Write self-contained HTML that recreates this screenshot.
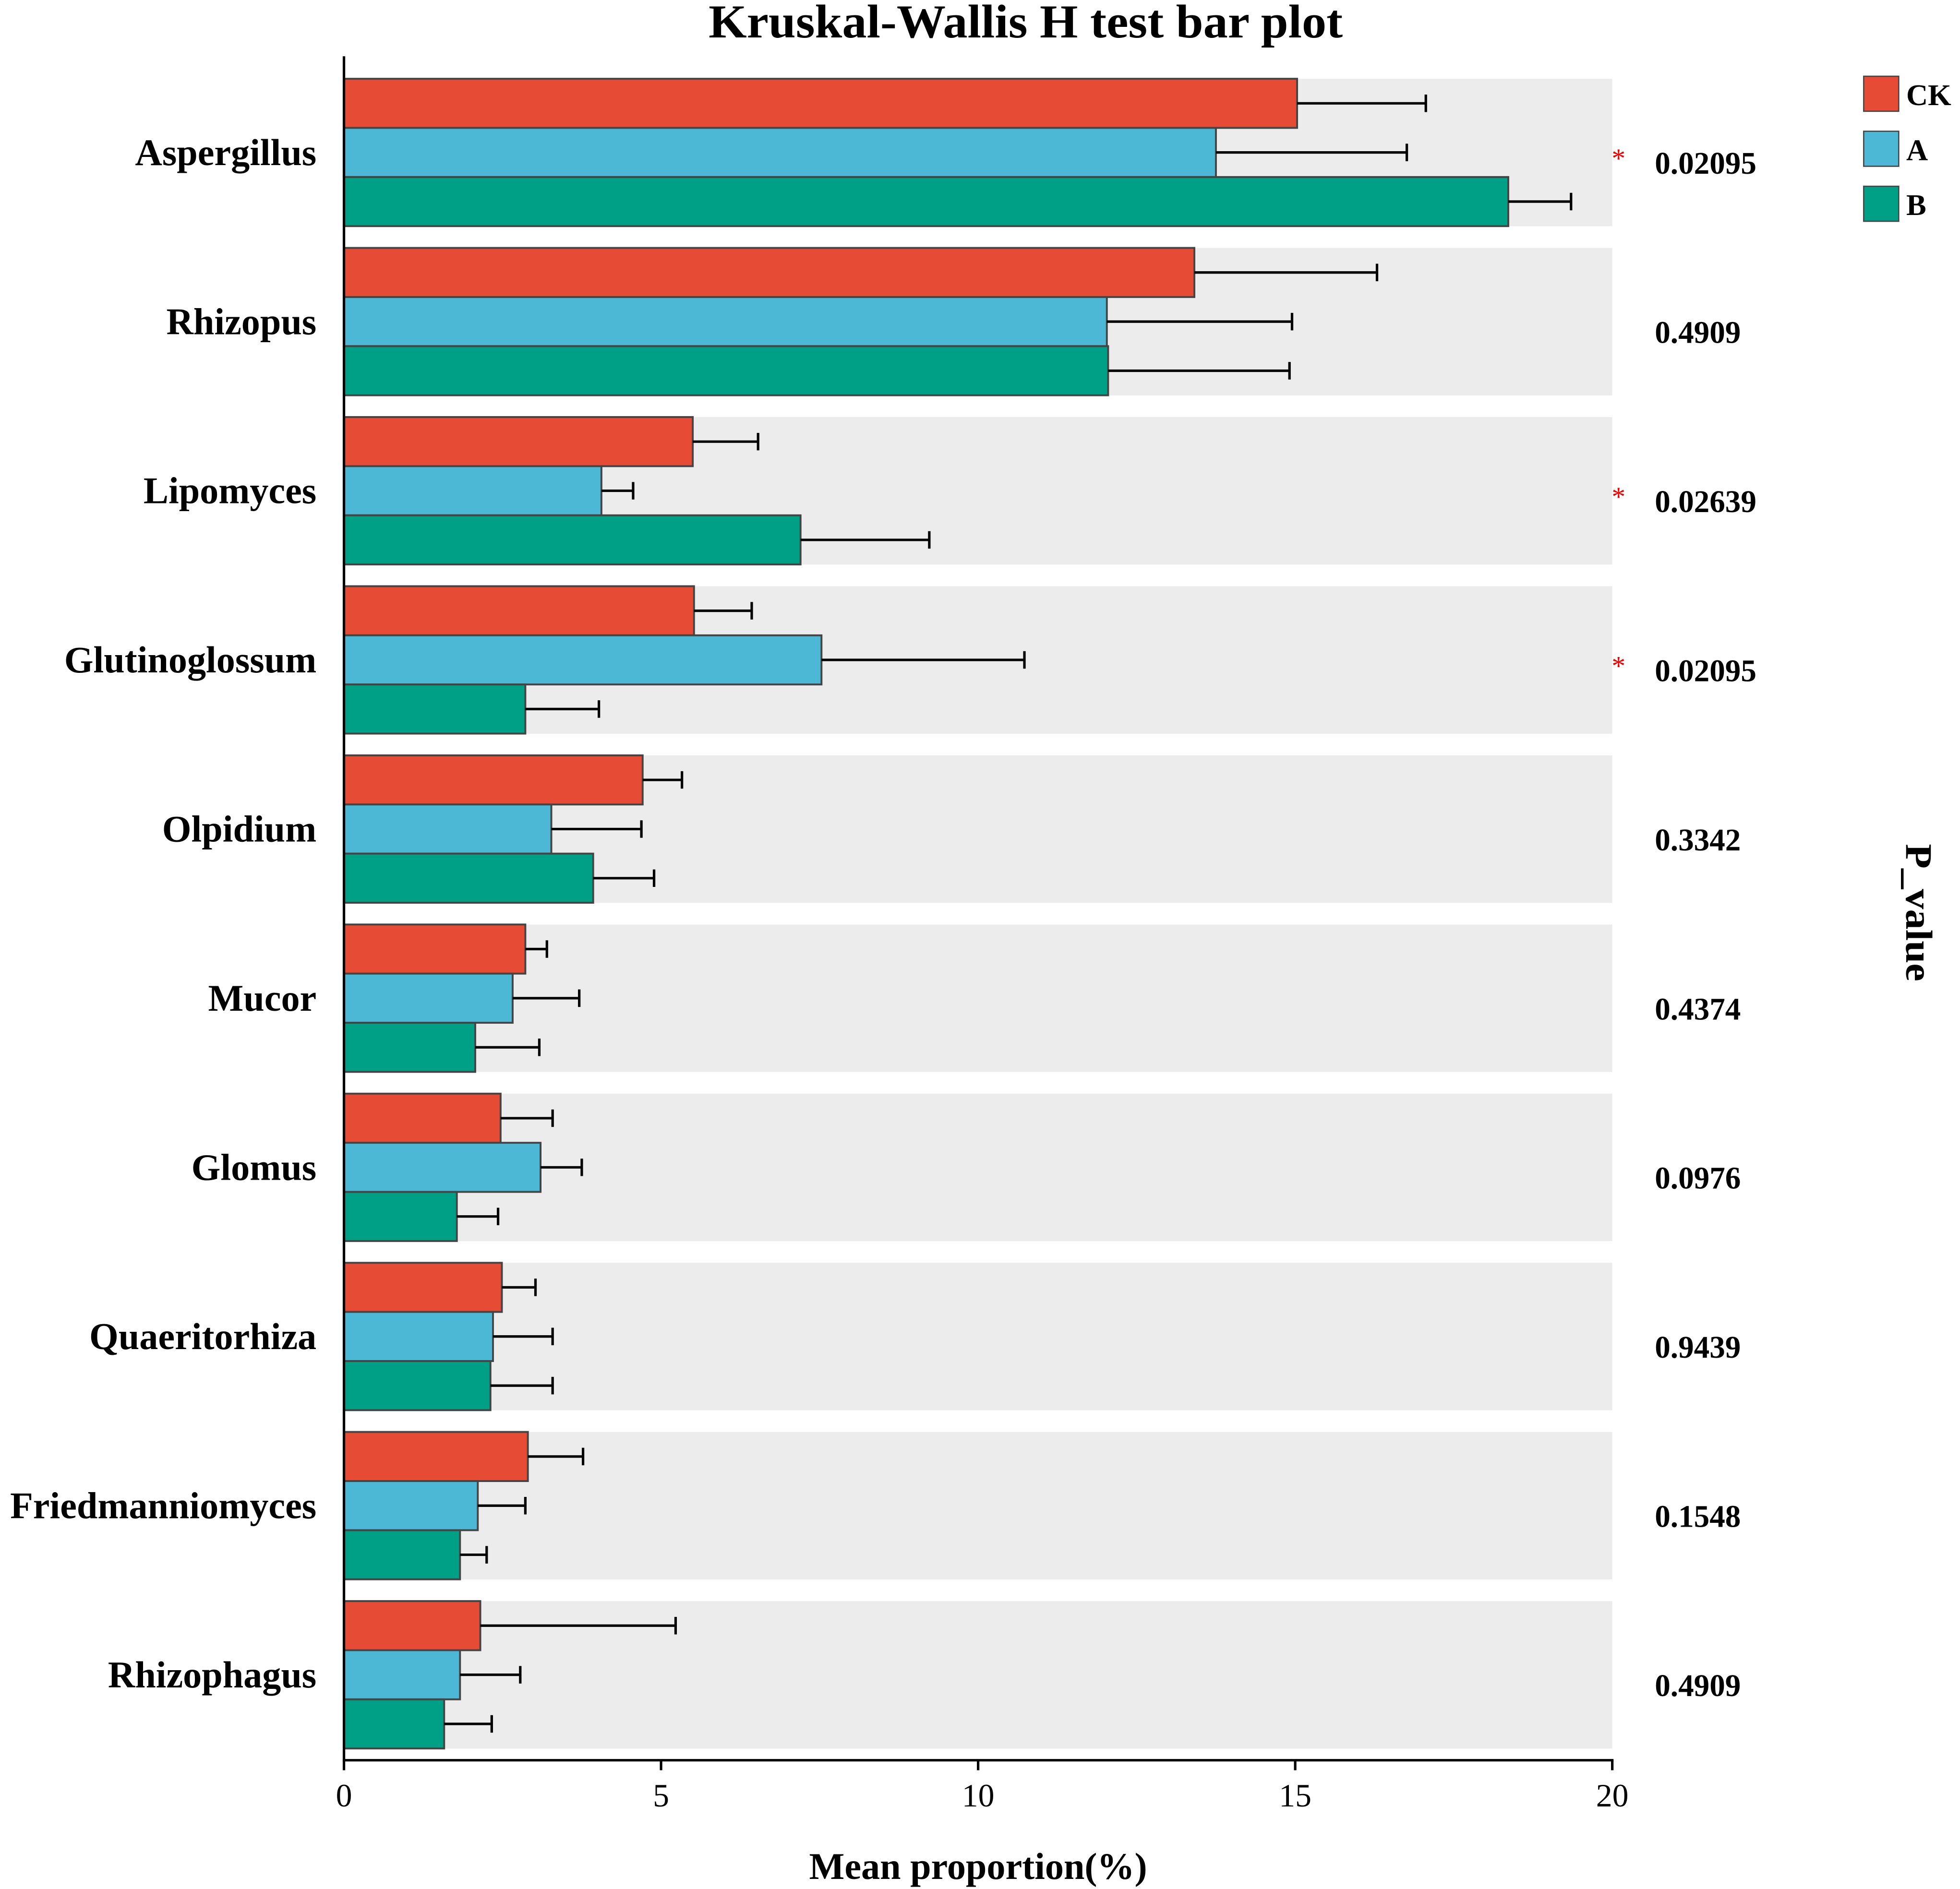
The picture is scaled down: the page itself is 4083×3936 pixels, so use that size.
<!DOCTYPE html>
<html><head><meta charset="utf-8"><style>
html,body{margin:0;padding:0;background:#fff}
svg{display:block}
text{font-family:"Liberation Serif",serif;fill:#000}
</style></head><body>
<svg id="chart" width="4083" height="3936" viewBox="0 0 1567 1511" preserveAspectRatio="none" xmlns="http://www.w3.org/2000/svg">
<text x="820" y="30" font-size="38" font-weight="bold" text-anchor="middle" textLength="507" lengthAdjust="spacingAndGlyphs">Kruskal-Wallis H test bar plot</text>
<g id="bands"></g><g id="bars"></g><g id="axes"></g>
<g>
<rect x="1490" y="61" width="28" height="28" fill="#e64b35" stroke="#444"/>
<text x="1524" y="84" font-size="24" font-weight="bold">CK</text>
<rect x="1490" y="105" width="28" height="28" fill="#4db8d6" stroke="#444"/>
<text x="1524" y="128" font-size="24" font-weight="bold">A</text>
<rect x="1490" y="149" width="28" height="28" fill="#00a087" stroke="#444"/>
<text x="1524" y="172" font-size="24" font-weight="bold">B</text>
</g>
<text x="1524" y="730" font-size="30" font-weight="bold" text-anchor="middle" transform="rotate(90 1524 730)" textLength="110" lengthAdjust="spacingAndGlyphs">P_value</text>
<text x="782" y="1503" font-size="30" font-weight="bold" text-anchor="middle">Mean proportion(%)</text>
</svg>
<script>
const categories=["Aspergillus","Rhizopus","Lipomyces","Glutinoglossum","Olpidium","Mucor","Glomus","Quaeritorhiza","Friedmanniomyces","Rhizophagus"];
const ckMeans=[15.03,13.41,5.50,5.52,4.71,2.86,2.47,2.49,2.90,2.15];
const ckUpper=[17.06,16.29,6.53,6.43,5.33,3.20,3.29,3.02,3.77,5.23];
const aMeans=[13.75,12.03,4.06,7.53,3.27,2.66,3.10,2.35,2.11,1.83];
const aUpper=[16.76,14.95,4.56,10.73,4.69,3.71,3.75,3.29,2.86,2.78];
const bMeans=[18.36,12.05,7.20,2.86,3.93,2.07,1.78,2.31,1.83,1.58];
const bUpper=[19.35,14.91,9.23,4.02,4.89,3.08,2.43,3.29,2.25,2.33];
const pValues=["0.02095","0.4909","0.02639","0.02095","0.3342","0.4374","0.0976","0.9439","0.1548","0.4909"];
const significant=[true,false,true,true,false,false,false,false,false,false];
const xTicks=[0,5,10,15,20];

const NS="http://www.w3.org/2000/svg";
const x0=275,x1=1289,xMax=20;
const xs=v=>x0+(x1-x0)*v/xMax;
const bandTop=i=>63+135.3*i;
function mk(tag,attrs,parent){const e=document.createElementNS(NS,tag);for(const k in attrs)e.setAttribute(k,attrs[k]);parent.appendChild(e);return e;}
const bands=document.getElementById('bands'),bars=document.getElementById('bars'),axes=document.getElementById('axes');
const series=[{m:ckMeans,u:ckUpper,c:"#e64b35",n:"ck"},{m:aMeans,u:aUpper,c:"#4db8d6",n:"a"},{m:bMeans,u:bUpper,c:"#00a087",n:"b"}];
categories.forEach((cat,i)=>{
  const t=bandTop(i);
  const band=mk('rect',{x:x0,y:t,width:x1-x0,height:118,fill:"#ececec"},bands);
  
  
  series.forEach((s,j)=>{
    const y=t+j*39.3,h=39.3;
    const r=mk('rect',{x:x0,y:y,width:xs(s.m[i])-x0,height:h,fill:s.c,stroke:"#444","stroke-width":1.5},bars);
    
    
    const cy=y+h/2;
    const l=mk('path',{d:`M${xs(s.m[i])},${cy}H${xs(s.u[i])}M${xs(s.u[i])},${cy-7}V${cy+7}`,stroke:"#000","stroke-width":2,fill:"none"},bars);
    
    
  });
  const lab=mk('text',{x:253,y:t+59+10,"font-size":30,"font-weight":"bold","text-anchor":"end"},axes);
  lab.textContent=cat;
  
  
  const pv=mk('text',{x:1323,y:t+59+17,"font-size":25,"font-weight":"bold"},axes);
  pv.textContent=pValues[i];
  
  
  if(significant[i]){
    const st=mk('text',{x:1294,y:t+59+12,"font-size":22,"text-anchor":"middle"},axes);
    st.style.fill="#e00";
    st.textContent="*";
    
    
  }
});
const ya=mk('line',{x1:x0,y1:45,x2:x0,y2:1409,stroke:"#000","stroke-width":2},axes);


const xa=mk('line',{x1:x0-1,y1:1408,x2:x1+1,y2:1408,stroke:"#000","stroke-width":2},axes);


xTicks.forEach(v=>{
  const tk=mk('line',{x1:xs(v),y1:1408,x2:xs(v),y2:1416,stroke:"#000","stroke-width":2},axes);
  
  
  const tl=mk('text',{x:xs(v),y:1445,"font-size":26,"text-anchor":"middle"},axes);
  tl.textContent=v;
  
  
});
</script>
</body></html>
